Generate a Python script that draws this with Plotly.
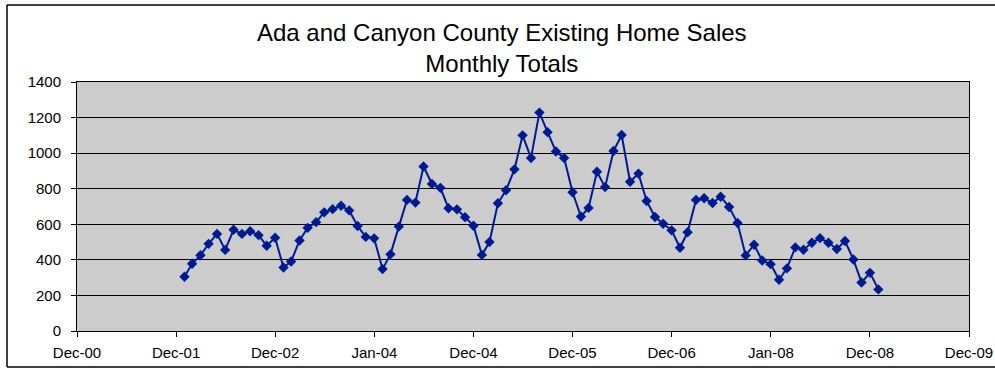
import pandas as pd
import plotly.graph_objects as go

# Monthly totals, Jan 2002 .. Jan 2009
months = pd.date_range("2002-01-31", "2009-01-31", freq="ME")
sales = [305, 378, 426, 490, 546, 456, 569, 546, 561, 539, 479, 524,
         357, 391, 509, 580, 612, 667, 685, 704, 678, 590, 529, 521,
         348, 431, 587, 737, 722, 925, 827, 805, 690, 684, 640, 592,
         428, 500, 718, 791, 909, 1100, 973, 1228, 1118, 1009, 973, 780,
         644, 692, 895, 809, 1012, 1102, 839, 885, 731, 641, 603, 566,
         468, 555, 737, 746, 720, 755, 697, 607, 425, 485, 396, 376,
         288, 352, 470, 457, 496, 522, 496, 461, 506, 402, 273, 327,
         234]

tick_dates = ["2000-12-31", "2001-12-31", "2002-12-31", "2004-01-01", "2004-12-31",
              "2005-12-31", "2006-12-31", "2008-01-01", "2008-12-31", "2009-12-31"]
tick_labels = ["Dec-00", "Dec-01", "Dec-02", "Jan-04", "Dec-04",
               "Dec-05", "Dec-06", "Jan-08", "Dec-08", "Dec-09"]
y_ticks = [0, 200, 400, 600, 800, 1000, 1200, 1400]

W, H = 995, 368
L, R, T, B = 77, 26, 82, 37
pw, ph = W - L - R, H - T - B

def px_x(p):
    return (p - L) / pw

def px_y(p):
    return (H - B - p) / ph

font = "Liberation Sans, Arial, sans-serif"
navy = "#001A94"

fig = go.Figure()
fig.add_trace(go.Scatter(
    x=months, y=sales, mode="lines+markers",
    line=dict(color=navy, width=2),
    marker=dict(symbol="diamond", size=8, color=navy),
    hoverinfo="x+y", showlegend=False,
))

# outer chart frame (right side runs off the picture, as in the original)
frame_left, frame_right, frame_top, frame_bottom = 7, W, 5, 367
frame = dict(color="black", width=1.5)
shapes = [
    dict(type="line", xref="paper", yref="paper", layer="below", line=frame,
         x0=px_x(frame_left), x1=px_x(frame_right), y0=px_y(frame_top), y1=px_y(frame_top)),
    dict(type="line", xref="paper", yref="paper", layer="below", line=frame,
         x0=px_x(frame_left), x1=px_x(frame_right), y0=px_y(frame_bottom), y1=px_y(frame_bottom)),
    dict(type="line", xref="paper", yref="paper", layer="below", line=frame,
         x0=px_x(frame_left), x1=px_x(frame_left), y0=px_y(frame_top), y1=px_y(frame_bottom)),
]

fig.update_layout(
    width=W, height=H, autosize=False,
    margin=dict(l=L, r=R, t=T, b=B, pad=0, autoexpand=False),
    paper_bgcolor="white",
    plot_bgcolor="#CCCCCC",
    font=dict(family=font, size=15, color="black"),
    showlegend=False,
    annotations=[dict(
        text="Ada and Canyon County Existing Home Sales<br>Monthly Totals",
        xref="paper", yref="paper", x=px_x(502), y=px_y(48),
        xanchor="center", yanchor="middle", showarrow=False,
        font=dict(family=font, size=24, color="black"),
    )],
    shapes=shapes,
)

fig.update_xaxes(
    type="date", range=[tick_dates[0], tick_dates[-1]],
    tickmode="array", tickvals=tick_dates, ticktext=tick_labels,
    ticks="outside", ticklen=5, tickcolor="black", tickwidth=1,
    ticklabelstandoff=3, automargin=False,
    showgrid=False, zeroline=False,
    showline=True, linecolor="black", linewidth=1, mirror=True,
    tickfont=dict(family=font, size=15, color="black"),
)
fig.update_yaxes(
    range=[0, 1400], tickmode="array", tickvals=y_ticks,
    ticks="outside", ticklen=5, tickcolor="black", tickwidth=1,
    ticklabelstandoff=7, automargin=False,
    showgrid=True, gridcolor="black", gridwidth=1, zeroline=False,
    showline=True, linecolor="black", linewidth=1, mirror=True,
    tickfont=dict(family=font, size=15, color="black"),
)

fig.write_html("out.html")
